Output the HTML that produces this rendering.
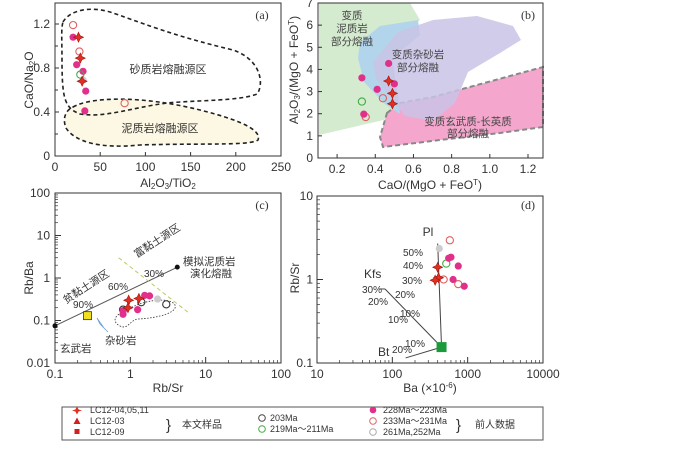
<!DOCTYPE html>
<html><head><meta charset="utf-8"><style>
body{margin:0;background:#fff;width:700px;height:444px;overflow:hidden}
svg{font-family:"Liberation Sans","Noto Sans CJK SC",sans-serif}
</style></head><body>
<svg id="s" width="700" height="444" viewBox="0 0 700 444">
<g>
<path d="M73,107 C90,97 140,95 200,110 C240,120 262,130 258,140 C250,146 200,143 140,145 C100,149 75,142 66,128 C62,118 66,110 73,107Z" fill="#fdf8e4" stroke="#222" stroke-width="1.6" stroke-dasharray="4,3"/>
<path d="M63,22 C70,10 90,6 110,12 C140,22 170,35 233,50 C262,60 264,85 257,94 C240,101 200,100 167,103 C130,108 105,118 80,114 C65,108 62,100 62,60 C62,40 61,28 63,22Z" fill="none" stroke="#222" stroke-width="1.6" stroke-dasharray="4,3"/>
<text x="168" y="73" font-size="11" text-anchor="middle" fill="#333">砂质岩熔融源区</text>
<text x="160" y="132" font-size="11" text-anchor="middle" fill="#333">泥质岩熔融源区</text>
</g>
<g>
<path d="M319,3 L410,3 L420,20 L392,45 L365,75 L392,108 L392,118 L319,135Z" fill="#d4ebcf"/>
<path d="M387,113 L400,103 L433,97 L543,67 L543,127 L500,133 L440,140 L383,147 L380,137Z" fill="#f4a6cc" stroke="#888" stroke-width="2" stroke-dasharray="5,3"/>
<path d="M360,42 L380,26 L418,20 L420,35 L392,58 L398,95 L400,114 L385,104 L364,82 L358,58Z" fill="#b3d5ec"/>
<path d="M373,62 L398,32 L433,20 L477,16 L513,26 L521,40 L500,53 L468,72 L455,103 L433,121 L405,116 L388,94 L376,78Z" fill="#c9c3e6" fill-opacity="0.85"/>
<g font-size="10.5" fill="#444" text-anchor="middle">
<text x="352" y="19">变质</text><text x="352" y="32">泥质岩</text><text x="352" y="45">部分熔融</text>
<text x="418" y="58">变质杂砂岩</text><text x="418" y="71">部分熔融</text>
<text x="468" y="125">变质玄武质-长英质</text><text x="468" y="137">部分熔融</text>
</g>
</g>
<g id="g" ></g>
<g font-size="9" fill="#333">
<rect x="62" y="407" width="481" height="33" fill="#fff" stroke="#555"/>
<path d="M77,406 L78.6,409 L82,410 L78.6,411 L77,414 L75.4,411 L72,410 L75.4,409Z" transform="translate(0,0.5)" fill="#e03020"/>
<text x="90" y="413">LC12-04,05,11</text>
<path d="M77,417.5 L80.5,424 L73.5,424Z" fill="#d02020"/><text x="90" y="424">LC12-03</text>
<rect x="74.5" y="429" width="5" height="5" fill="#d02020"/><text x="90" y="435">LC12-09</text>
<text x="166" y="430" font-size="15">}</text><text x="182" y="428" font-size="10">本文样品</text>
<circle cx="262" cy="418" r="3.3" fill="none" stroke="#444"/><text x="270" y="421">203Ma</text>
<circle cx="262" cy="429" r="3.3" fill="none" stroke="#4a4"/><text x="270" y="432">219Ma～211Ma</text>
<circle cx="373" cy="410" r="3.3" fill="#e0308a"/><text x="383" y="413">228Ma～223Ma</text>
<circle cx="373" cy="421" r="3.3" fill="none" stroke="#e06060"/><text x="383" y="424">233Ma～231Ma</text>
<circle cx="373" cy="432" r="3.3" fill="none" stroke="#aaa"/><text x="383" y="435">261Ma,252Ma</text>
<text x="456" y="430" font-size="15">}</text><text x="475" y="428" font-size="10">前人数据</text>
</g>
</svg>
<script>
// Panel a data
const aTicksX=[0,50,100,150,200,250];
const aTicksY=[0,0.4,0.8,1.2];
const aStarX=[26,28,30], aStarY=[1.08,0.89,0.68];
const aMagX=[20,24,31,34,33], aMagY=[1.08,0.83,0.77,0.59,0.41];
const aRedX=[20,27,77], aRedY=[1.19,0.95,0.48];
const aGreenX=[28], aGreenY=[0.74];
const aGrayX=[31], aGrayY=[0.69];
// Panel b data
const bTicksX=[0.2,0.4,0.6,0.8,1.0,1.2];
const bTicksY=[0,1,2,3,4,5,6,7];
const bStarX=[0.47,0.49,0.49], bStarY=[3.48,2.92,2.45];
const bMagX=[0.33,0.47,0.41,0.5,0.34], bMagY=[3.62,4.27,3.1,3.35,1.98];
const bRedX=[0.44,0.35], bRedY=[2.7,1.85];
const bGreenX=[0.33], bGreenY=[2.55];
// Panel c data
const cTicksX=[0.1,1,10,100];
const cTicksY=[0.01,0.1,1,10,100];
const cStarX=[0.95,0.93,1.3], cStarY=[0.3,0.2,0.33];
const cMagX=[0.8,0.8,1.55,1.8,1.25], cMagY=[0.17,0.14,0.39,0.38,0.18];
const cOpenX=[1.4,3.0,0.8], cOpenY=[0.27,0.24,0.18];
const cGrayX=[2.3], cGrayY=[0.32];
const cLineX=[0.1,4.2], cLineY=[0.075,1.8];
// Panel d data
const dTicksX=[10,100,1000,10000];
const dTicksY=[0.1,1,10];
const dStarX=[400,410,370], dStarY=[1.4,1.05,0.98];
const dMagX=[560,600,750,640,900], dMagY=[1.8,1.85,1.45,1.0,0.83];
const dRedX=[580,480,750], dRedY=[2.95,1.0,0.88];
const dGreenX=[520], dGreenY=[1.55];
const dGrayX=[420], dGrayY=[2.35];
const dSrcX=450, dSrcY=0.155;
const dPlX=400, dPlY=2.7, dKfsX=80, dKfsY=0.77, dBtX=150, dBtY=0.115;

const NS="http://www.w3.org/2000/svg";
const G=document.getElementById('g');
function el(t,a,p){const e=document.createElementNS(NS,t);for(const k in a)e.setAttribute(k,a[k]);(p||G).appendChild(e);return e;}
function lin(d0,d1,r0,r1){return v=>r0+(v-d0)/(d1-d0)*(r1-r0);}
function lg(d0,d1,r0,r1){return v=>r0+(Math.log10(v)-Math.log10(d0))/(Math.log10(d1)-Math.log10(d0))*(r1-r0);}
function txt(x,y,s,o){const t=el('text',Object.assign({x:x,y:y,'font-size':11,fill:'#333'},o||{}));t.textContent=s;return t;}
function star(x,y,name){const r=5,q=1.6;const e=el('path',{d:`M${x},${y-r}L${x+q},${y-q}L${x+r},${y}L${x+q},${y+q}L${x},${y+r}L${x-q},${y+q}L${x-r},${y}L${x-q},${y-q}Z`,fill:'#e03020',stroke:'#a01010','stroke-width':0.6});

}
function dot(x,y,fill,stroke,name){const e=el('circle',{cx:x,cy:y,r:3.6,fill:fill,stroke:stroke,'stroke-width':1.1});

}
function frame(x0,y0,x1,y1,name){const e=el('rect',{x:x0,y:y0,width:x1-x0,height:y1-y0,fill:'none',stroke:'#333','stroke-width':1});

}
function series(X,Y,sx,sy,kind,name){X.forEach((v,i)=>{const x=sx(v),y=sy(Y[i]);
if(kind==='star')star(x,y,name);
else if(kind==='mag')dot(x,y,'#e0308a','none',name);
else if(kind==='red')dot(x,y,'none','#e06060',name);
else if(kind==='green')dot(x,y,'none','#44aa44',name);
else if(kind==='gray')dot(x,y,'#ccc','none',name);
else if(kind==='open')dot(x,y,'none','#333',name);});}

// ===== Panel a
{const sx=lin(0,250,55,281), sy=lin(0,1.2,156,24);
frame(55,3,281,156,'panel-a-frame');
aTicksX.forEach(v=>{el('line',{x1:sx(v),x2:sx(v),y1:156,y2:152,stroke:'#333'});const t=txt(sx(v),171,v,{'text-anchor':'middle','font-size':12});});
aTicksY.forEach(v=>{el('line',{x1:55,x2:59,y1:sy(v),y2:sy(v),stroke:'#333'});const t=txt(50,sy(v)+4,v,{'text-anchor':'end','font-size':12});});
[0.2,0.6,1.0].forEach(v=>el('line',{x1:55,x2:58,y1:sy(v),y2:sy(v),stroke:'#333'}));
const xt=txt(168,187,'',{'text-anchor':'middle','font-size':12});xt.innerHTML='Al<tspan font-size="8" dy="2">2</tspan><tspan dy="-2">O</tspan><tspan font-size="8" dy="2">3</tspan><tspan dy="-2">/TiO</tspan><tspan font-size="8" dy="2">2</tspan>';

const yt=txt(0,0,'',{'text-anchor':'middle','font-size':12,transform:'translate(33,80) rotate(-90)'});yt.innerHTML='CaO/Na<tspan font-size="8" dy="2">2</tspan><tspan dy="-2">O</tspan>';

const pl=txt(262,19,'(a)',{'font-family':'Liberation Serif','font-size':12,'text-anchor':'middle'});
series(aRedX,aRedY,sx,sy,'red','a-point-233ma');series(aMagX,aMagY,sx,sy,'mag','a-point-228ma');
series(aGrayX,aGrayY,sx,sy,'gray','a-point-261ma');series(aGreenX,aGreenY,sx,sy,'green','a-point-219ma');series(aStarX,aStarY,sx,sy,'star','a-point-sample');}

// ===== Panel b
{const sx=lin(0.1,1.2,318,528), sy=lin(0,7,158,3);
frame(318,3,543,158,'panel-b-frame');
bTicksX.forEach(v=>{el('line',{x1:sx(v),x2:sx(v),y1:158,y2:154,stroke:'#333'});const t=txt(sx(v),173,v.toFixed(1),{'text-anchor':'middle','font-size':12});});
bTicksY.forEach(v=>{el('line',{x1:318,x2:322,y1:sy(v),y2:sy(v),stroke:'#333'});const t=txt(313,sy(v)+4,v,{'text-anchor':'end','font-size':12});});
const xt=txt(430,189,'',{'text-anchor':'middle','font-size':12});xt.innerHTML='CaO/(MgO + FeO<tspan font-size="8" dy="-4">T</tspan><tspan dy="4">)</tspan>';

const yt=txt(0,0,'',{'text-anchor':'middle','font-size':12,transform:'translate(298,70) rotate(-90)'});yt.innerHTML='Al<tspan font-size="8" dy="2">2</tspan><tspan dy="-2">O</tspan><tspan font-size="8" dy="2">3</tspan><tspan dy="-2">/(MgO + FeO</tspan><tspan font-size="8" dy="-4">T</tspan><tspan dy="4">)</tspan>';

const pl=txt(528,19,'(b)',{'font-family':'Liberation Serif','font-size':12,'text-anchor':'middle'});
series(bRedX,bRedY,sx,sy,'red','b-point-233ma');series(bGreenX,bGreenY,sx,sy,'green','b-point-219ma');
series(bMagX,bMagY,sx,sy,'mag','b-point-228ma');series(bStarX,bStarY,sx,sy,'star','b-point-sample');}

// ===== Panel c
{const sx=lg(0.1,100,55,281), sy=lg(0.01,100,363,193);
frame(55,193,281,363,'panel-c-frame');
for(let d=0.1;d<100;d*=10)for(let k=2;k<10;k++){const v=d*k;el('line',{x1:sx(v),x2:sx(v),y1:363,y2:360,stroke:'#333','stroke-width':0.7});}
for(let d=0.01;d<100;d*=10)for(let k=2;k<10;k++){const v=d*k;el('line',{x1:55,x2:58,y1:sy(v),y2:sy(v),stroke:'#333','stroke-width':0.7});}
cTicksX.forEach(v=>{el('line',{x1:sx(v),x2:sx(v),y1:363,y2:357,stroke:'#333'});const t=txt(sx(v),378,v,{'text-anchor':'middle','font-size':12});});
cTicksY.forEach(v=>{el('line',{x1:55,x2:61,y1:sy(v),y2:sy(v),stroke:'#333'});const t=txt(50,sy(v)+4,v,{'text-anchor':'end','font-size':12});});
const xt=txt(168,392,'Rb/Sr',{'text-anchor':'middle','font-size':12});
const yt=txt(0,0,'Rb/Ba',{'text-anchor':'middle','font-size':12,transform:'translate(33,278) rotate(-90)'});
const pl=txt(262,209,'(c)',{'font-family':'Liberation Serif','font-size':12,'text-anchor':'middle'});
const ml=el('line',{x1:sx(cLineX[0]),y1:sy(cLineY[0]),x2:sx(cLineX[1]),y2:sy(cLineY[1]),stroke:'#555','stroke-width':1});

el('circle',{cx:sx(cLineX[0]),cy:sy(cLineY[0]),r:2.5,fill:'#111'});el('circle',{cx:sx(cLineX[1]),cy:sy(cLineY[1]),r:2.5,fill:'#111'});
el('line',{x1:sx(0.7),y1:sy(3),x2:sx(6),y2:sy(0.15),stroke:'#b8cc60','stroke-width':1,'stroke-dasharray':'4,3'});
el('path',{d:'M124,312 C140,300 170,296 175,305 C178,312 160,318 138,319 C130,320 128,330 120,326 C112,322 114,315 124,312Z',fill:'none',stroke:'#333','stroke-dasharray':'1.5,1.5','stroke-width':0.8});
el('path',{d:'M97,318 L104,328 L108,332 L100,324Z',fill:'none',stroke:'#6a9fd8','stroke-width':0.8});
const ys=el('rect',{x:sx(0.27)-4,y:sy(0.13)-4,width:8,height:8,fill:'#f0e020',stroke:'#333','stroke-width':0.8});
txt(73,308,'90%',{'font-size':10});txt(108,290,'60%',{'font-size':10});txt(144,277,'30%',{'font-size':10});
txt(0,0,'贫黏土源区',{'font-size':10.5,transform:'translate(66,304) rotate(-33)'});
txt(0,0,'富黏土源区',{'font-size':10.5,transform:'translate(137,258) rotate(-33)'});
txt(183,265,'模拟泥质岩',{'font-size':10.5});txt(190,277,'演化熔融',{'font-size':10.5});
txt(105,344,'杂砂岩',{'font-size':10.5});txt(60,352,'玄武岩',{'font-size':10.5});
series(cOpenX,cOpenY,sx,sy,'open','c-point-203ma');series(cGrayX,cGrayY,sx,sy,'gray','c-point-261ma');
series(cMagX,cMagY,sx,sy,'mag','c-point-228ma');series(cStarX,cStarY,sx,sy,'star','c-point-sample');}

// ===== Panel d
{const sx=lg(10,10000,317,543), sy=lg(0.1,10,363,196);
frame(317,196,543,363,'panel-d-frame');
for(let d=10;d<10000;d*=10)for(let k=2;k<10;k++){const v=d*k;el('line',{x1:sx(v),x2:sx(v),y1:363,y2:360,stroke:'#333','stroke-width':0.7});}
for(let d=0.1;d<10;d*=10)for(let k=2;k<10;k++){const v=d*k;el('line',{x1:317,x2:320,y1:sy(v),y2:sy(v),stroke:'#333','stroke-width':0.7});}
dTicksX.forEach(v=>{el('line',{x1:sx(v),x2:sx(v),y1:363,y2:357,stroke:'#333'});const t=txt(sx(v),378,v,{'text-anchor':'middle','font-size':12});});
dTicksY.forEach(v=>{el('line',{x1:317,x2:323,y1:sy(v),y2:sy(v),stroke:'#333'});const t=txt(313,sy(v)+4,v,{'text-anchor':'end','font-size':12});});
const xt=txt(430,392,'',{'text-anchor':'middle','font-size':12});xt.innerHTML='Ba (×10<tspan font-size="8" dy="-4">-6</tspan><tspan dy="4">)</tspan>';
const yt=txt(0,0,'Rb/Sr',{'text-anchor':'middle','font-size':12,transform:'translate(299,278) rotate(-90)'});
const pl=txt(528,209,'(d)',{'font-family':'Liberation Serif','font-size':12,'text-anchor':'middle'});
const x0=sx(dSrcX),y0=sy(dSrcY);
[[dPlX,dPlY,'pl-vector'],[dKfsX,dKfsY,'kfs-vector'],[dBtX,dBtY,'bt-vector']].forEach(a=>{const l=el('line',{x1:x0,y1:y0,x2:sx(a[0]),y2:sy(a[1]),stroke:'#444','stroke-width':1});});
el('line',{x1:sx(dKfsX),y1:sy(dKfsY),x2:sx(dKfsX)-6,y2:sy(dKfsY),stroke:'#444'});
const gs=el('rect',{x:x0-5,y:y0-5,width:10,height:10,fill:'#1a9a3a'});
txt(428,236,'Pl',{'font-size':12,'text-anchor':'middle'});txt(364,278,'Kfs',{'font-size':12});txt(378,356,'Bt',{'font-size':12});
txt(413,256,'50%',{'font-size':10,'text-anchor':'middle'});txt(413,269,'40%',{'font-size':10,'text-anchor':'middle'});
txt(412,284,'30%',{'font-size':10,'text-anchor':'middle'});txt(405,298,'20%',{'font-size':10,'text-anchor':'middle'});
txt(410,317,'10%',{'font-size':10,'text-anchor':'middle'});
txt(372,293,'30%',{'font-size':10,'text-anchor':'middle'});txt(378,305,'20%',{'font-size':10,'text-anchor':'middle'});
txt(398,323,'10%',{'font-size':10,'text-anchor':'middle'});txt(415,347,'10%',{'font-size':10,'text-anchor':'middle'});
txt(402,353,'20%',{'font-size':10,'text-anchor':'middle'});
series(dGrayX,dGrayY,sx,sy,'gray','d-point-261ma');series(dRedX,dRedY,sx,sy,'red','d-point-233ma');
series(dGreenX,dGreenY,sx,sy,'green','d-point-219ma');series(dMagX,dMagY,sx,sy,'mag','d-point-228ma');
series(dStarX,dStarY,sx,sy,'star','d-point-sample');}
</script>
</body></html>
